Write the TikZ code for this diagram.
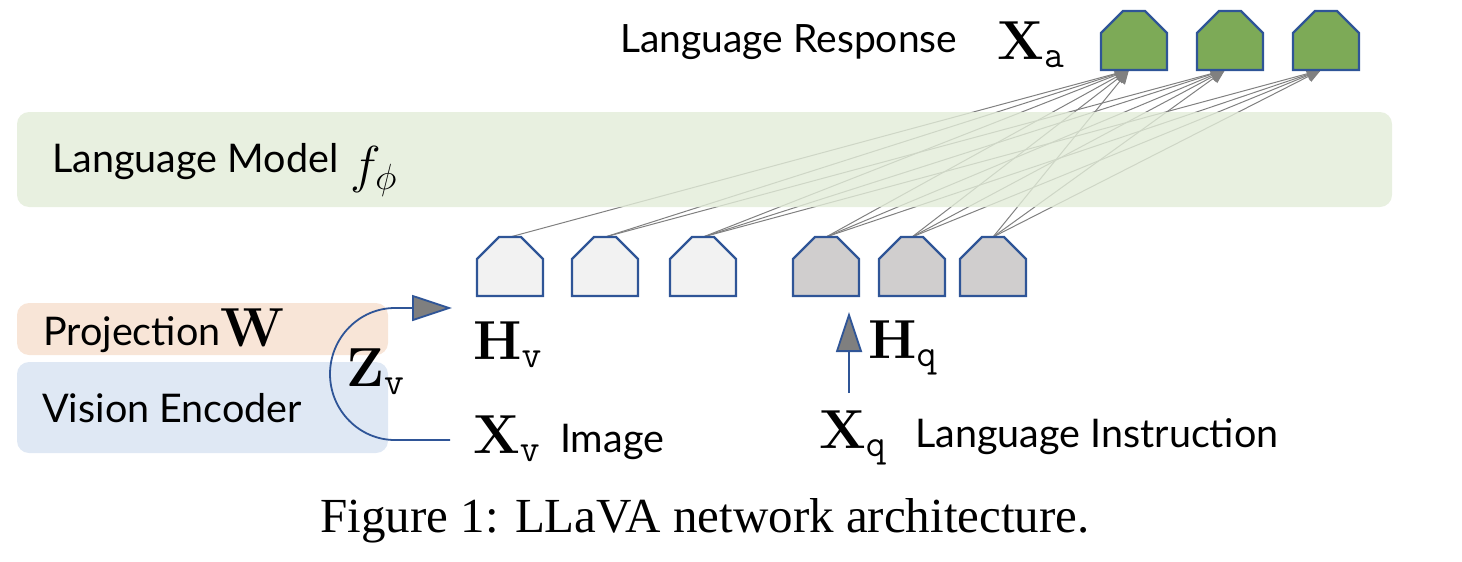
\RequirePackage{fix-cm}
\documentclass[tikz,border=0pt]{standalone}
\usepackage[no-math]{fontspec}
\setmainfont{Lato}
\newfontfamily\capfont{Liberation Serif}
\usetikzlibrary{arrows.meta,calc}
\definecolor{tokblue}{HTML}{2F5597}
\definecolor{outgreen}{HTML}{7DAA57}
\definecolor{lighttok}{HTML}{F2F2F2}
\definecolor{graytok}{HTML}{D0CECE}
\definecolor{lmgreen}{HTML}{E2ECD8}
\definecolor{projpeach}{HTML}{F8E5D7}
\definecolor{visblue}{HTML}{DFE8F4}
\definecolor{conngray}{HTML}{808080}
\definecolor{arrowgray}{HTML}{7F7F7F}
\newcommand\housepath[2]{%
  \draw[draw=tokblue, line width=2.4pt, fill=#2, line join=miter]
    (#1.south west) -- (#1.south east) -- ($(#1.north east)+(0,22)$)
    -- ($(#1.north)+(11,0)$) -- ($(#1.north)+(-11,0)$)
    -- ($(#1.north west)+(0,22)$) -- cycle;}
\begin{document}
\begin{tikzpicture}[x=1pt,y=-1pt,
  tok/.style={minimum width=66pt, minimum height=59pt, inner sep=0pt, outer sep=0pt},
  lbl/.style={inner sep=0pt, anchor=base west, font=\fontsize{39.5}{44}\selectfont},
  mlbl/.style={inner sep=0pt, anchor=base west, font=\fontsize{55}{62}\selectfont},
  lmline/.style={draw=conngray, line width=1pt, -{Triangle[length=14pt,width=12pt]}},
  bigarrow/.style={draw=tokblue, line width=1.8pt, -{Triangle[length=40pt,width=26pt,fill=arrowgray]}},
  panel/.style={rounded corners=12pt, draw=none}
]
\useasboundingbox (0,0) rectangle (1462,562);

% token anchors
\node[tok] (v1) at (510,266.5) {};
\node[tok] (v2) at (605,266.5) {};
\node[tok] (v3) at (703,266.5) {};
\node[tok] (q1) at (826,266.5) {};
\node[tok] (q2) at (912,266.5) {};
\node[tok] (q3) at (993,266.5) {};
\node[tok] (a1) at (1134,40.5) {};
\node[tok] (a2) at (1230,40.5) {};
\node[tok] (a3) at (1326,40.5) {};

% connectors through the language model
\foreach \s/\n in {v1/1,v2/2,v3/3,q1/3,q2/3,q3/3}{
  \foreach \t in {1,...,\n}{
    \draw[lmline] (\s.north) -- ($(a\t.south)+(-5,0)$);
  }
}

% language model band (drawn over the lines)
\fill[panel, fill=lmgreen, fill opacity=0.8] (17,112) rectangle (1392,207);

% side panels
\fill[panel, fill=projpeach] (17,303) rectangle (388,355);
\fill[panel, fill=visblue] (17,362) rectangle (388,453);

% tokens
\housepath{v1}{lighttok}
\housepath{v2}{lighttok}
\housepath{v3}{lighttok}
\housepath{q1}{graytok}
\housepath{q2}{graytok}
\housepath{q3}{graytok}
\housepath{a1}{outgreen}
\housepath{a2}{outgreen}
\housepath{a3}{outgreen}

% labels
\node[lbl] (lm) at (52,172) {Language Model};
\node[inner sep=0pt, anchor=base west, font=\fontsize{52}{58}\selectfont] (fphi) at (350,182) {$f_{\phi}$};
\node[inner sep=0pt, anchor=base west, font=\fontsize{39}{44}\selectfont] (lr) at (620,52) {Language Response};
\node[mlbl] (xa) at (997,59) {$\mathbf{X}_{\mathtt{a}}$};
\node[lbl] (proj) at (43,345) {Projection};
\node[mlbl] (w) at (220,346) {$\mathbf{W}$};
\node[lbl] (ve) at (42,422) {Vision Encoder};
\node[mlbl] (zv) at (346,386) {$\mathbf{Z}_{\mathtt{v}}$};
\node[mlbl] (hv) at (473,359) {$\mathbf{H}_{\mathtt{v}}$};
\node[mlbl] (xv) at (473,453) {$\mathbf{X}_{\mathtt{v}}$};
\node[lbl] (img) at (560,452) {Image};
\node[mlbl] (hq) at (868,358) {$\mathbf{H}_{\mathtt{q}}$};
\node[mlbl] (xq) at (819,448) {$\mathbf{X}_{\mathtt{q}}$};
\node[lbl] (li) at (915,447) {Language Instruction};

% arrows
\coordinate (zs) at (450,440);
\coordinate (hvtip) at (452,308);
\draw[bigarrow] (zs) -- (395,440) .. controls (359,440) and (330,410) .. (330,374)
  .. controls (330,338) and (359,308) .. (395,308) -- (hvtip);
\coordinate (hqs) at (849,393);
\coordinate (hqt) at (849,312);
\draw[bigarrow] (hqs) -- (hqt);

% caption
\node[inner sep=0pt, anchor=base, font=\capfont\fontsize{49}{55}\selectfont] (cap) at (705,532) {Figure 1: LLaVA network architecture.};
\end{tikzpicture}
\end{document}
